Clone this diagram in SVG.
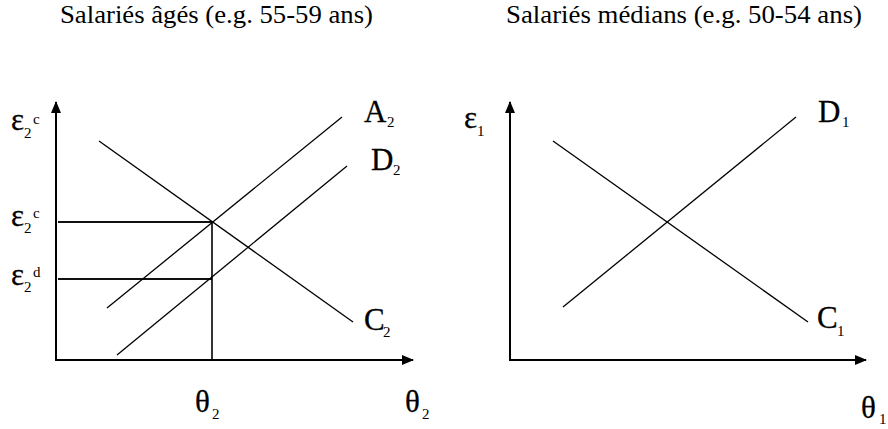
<svg xmlns="http://www.w3.org/2000/svg" width="888" height="429" viewBox="0 0 888 429">
<style>
text{font-family:'Liberation Serif','Times New Roman',Tinos,'DejaVu Serif',serif;fill:#000}
.t{font-size:26px}
.m{font-size:31px;stroke:#000;stroke-width:0.3}
.s{font-size:15px}
.ax{stroke:#000;stroke-width:2;fill:none}
.ln{stroke:#000;stroke-width:1.3;fill:none}
.hl{stroke:#111;stroke-width:2;fill:none}
</style>
<defs>
<marker id="arr" viewBox="0 0 12 10" refX="11" refY="5" markerWidth="12" markerHeight="10" markerUnits="userSpaceOnUse" orient="auto">
<path d="M0,0 L12,5 L0,10 Z" fill="#000"/>
</marker>
</defs>
<rect width="888" height="429" fill="#fff"/>
<g id="titles">
<text class="t" x="60" y="23" textLength="313" lengthAdjust="spacingAndGlyphs">Salariés âgés (e.g. 55-59 ans)</text>
<text class="t" x="506" y="23" textLength="356" lengthAdjust="spacingAndGlyphs">Salariés médians (e.g. 50-54 ans)</text>
</g>
<g id="connectors">
<line class="ax" x1="56" y1="361" x2="56" y2="102" marker-end="url(#arr)"/>
<line class="ax" x1="55" y1="360" x2="413" y2="360" marker-end="url(#arr)"/>
<line class="hl" x1="58" y1="222" x2="212" y2="222"/>
<line class="hl" x1="58" y1="279" x2="212" y2="279"/>
<line class="ln" x1="212" y1="222" x2="212" y2="360" style="stroke-width:1.6"/>
<line class="ln" x1="99" y1="141" x2="353" y2="322"/>
<line class="ln" x1="107" y1="308" x2="342" y2="117"/>
<line class="ln" x1="117" y1="355" x2="347" y2="166"/>
<line class="ax" x1="510" y1="361" x2="510" y2="102" marker-end="url(#arr)"/>
<line class="ax" x1="509" y1="360" x2="866" y2="360" marker-end="url(#arr)"/>
<line class="ln" x1="553" y1="141" x2="808" y2="322"/>
<line class="ln" x1="563" y1="307" x2="796" y2="117"/>
</g>
<g id="label-e2c-top"><text class="m" x="11" y="130">ε</text><text class="s" x="24" y="138">2</text><text class="s" x="33" y="124">c</text></g>
<g id="label-e2c"><text class="m" x="11" y="226">ε</text><text class="s" x="24" y="233">2</text><text class="s" x="33" y="218">c</text></g>
<g id="label-e2d"><text class="m" x="11" y="285">ε</text><text class="s" x="24" y="292">2</text><text class="s" x="33" y="277">d</text></g>
<g id="label-A2"><text class="m" x="364" y="122">A</text><text class="s" x="387" y="127">2</text></g>
<g id="label-D2"><text class="m" x="371" y="170">D</text><text class="s" x="393" y="175">2</text></g>
<g id="label-C2"><text class="m" x="364" y="330">C</text><text class="s" x="383" y="337">2</text></g>
<g id="label-t2-mid"><text class="m" x="195" y="412">θ</text><text class="s" x="212" y="419">2</text></g>
<g id="label-t2-right"><text class="m" x="405" y="412">θ</text><text class="s" x="422" y="419">2</text></g>
<g id="label-e1"><text class="m" x="464" y="128">ε</text><text class="s" x="477" y="136">1</text></g>
<g id="label-D1"><text class="m" x="818" y="122">D</text><text class="s" x="842" y="127">1</text></g>
<g id="label-C1"><text class="m" x="817" y="328">C</text><text class="s" x="837" y="336">1</text></g>
<g id="label-t1"><text class="m" x="861" y="418">θ</text><text class="s" x="879" y="424">1</text></g>
</svg>
